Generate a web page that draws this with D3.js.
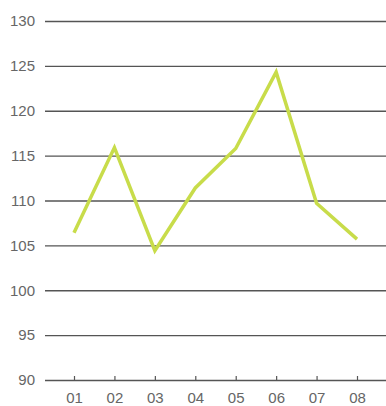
<!DOCTYPE html>
<html>
<head>
<meta charset="utf-8">
<script src="https://cdn.jsdelivr.net/npm/d3@7"></script>
<style>
  body { margin: 0; background: #fff; }
  text { font-family: "Liberation Sans", Arial, sans-serif; fill: #666; }
</style>
</head>
<body>
<script>
// chart data
const months = ["01", "02", "03", "04", "05", "06", "07", "08"];
const values = [106.4, 115.9, 104.4, 111.4, 115.8, 124.3, 109.7, 105.7];
const yTicks = [90, 95, 100, 105, 110, 115, 120, 125, 130];

const w = 386, h = 406;

const svg = d3.select("body").append("svg")
    .attr("width", w)
    .attr("height", h);

// scales
const x = d3.scalePoint()
    .domain(months)
    .range([74, 357]);

const y = d3.scaleLinear()
    .domain([90, 130])
    .range([380, 21]);

// horizontal grid lines + y labels
const grid = svg.append("g")
    .attr("class", "grid")
    .call(d3.axisLeft(y).tickValues(yTicks).tickSize(-(w - 45)).tickPadding(10))
    .attr("transform", "translate(45,0)");

grid.select(".domain").remove();
grid.selectAll(".tick line")
    .attr("stroke", "#555")
    .attr("stroke-width", 1.4);
grid.selectAll(".tick text")
    .style("font-size", "15px")
    .attr("fill", "#666");

// bottom axis with small upward ticks
const xAxis = svg.append("g")
    .attr("class", "xaxis")
    .attr("transform", "translate(0,380)")
    .call(d3.axisBottom(x).tickSize(-4).tickPadding(12));

xAxis.select(".domain").remove();
xAxis.selectAll(".tick line")
    .attr("stroke", "#555")
    .attr("stroke-width", 1.2);
xAxis.selectAll(".tick text")
    .style("font-size", "15px")
    .attr("fill", "#666");

// the line
const line = d3.line()
    .x((d, i) => x(months[i]))
    .y(d => y(d));

svg.append("path")
    .datum(values)
    .attr("fill", "none")
    .attr("stroke", "#c8dc4a")
    .attr("stroke-width", 3.5)
    .attr("stroke-linejoin", "miter")
    .attr("d", line);
</script>
</body>
</html>
